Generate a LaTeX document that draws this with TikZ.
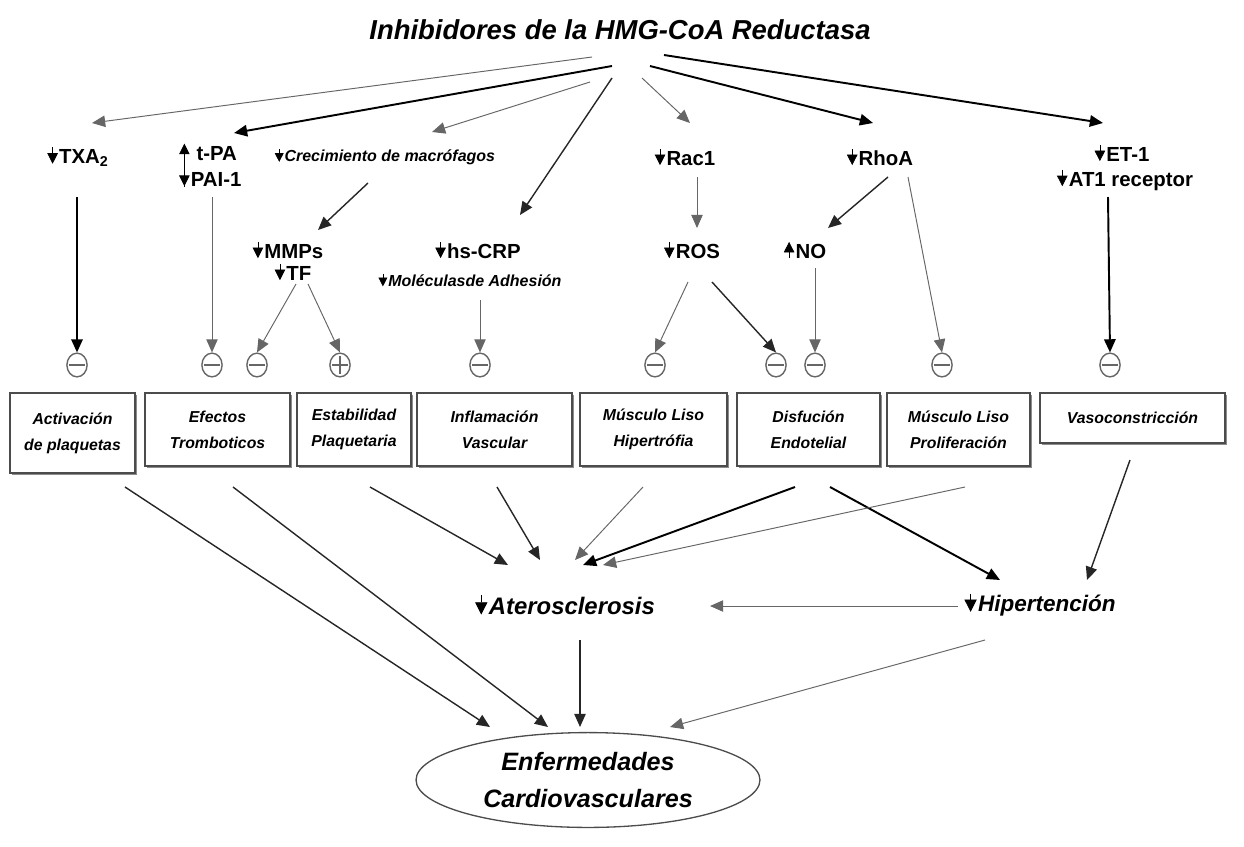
\documentclass[tikz,border=0pt]{standalone}
\usepackage{fontspec}
\setmainfont{Liberation Sans}
\usetikzlibrary{arrows.meta,shapes.geometric,shadows}
\newcommand{\dnar}[1][6]{\tikz[baseline=0pt]\draw[line width=0.4pt,-{Triangle[length=#1pt,width=#1pt]}] (0,0.8em) -- (0,0pt);\hspace{0.06em}}
\newcommand{\upar}[1][6]{\tikz[baseline=0pt]\draw[line width=0.4pt,-{Triangle[length=#1pt,width=#1pt]}] (0,0pt) -- (0,0.8em);\hspace{0.06em}}
\newcommand{\uplong}{\tikz[baseline=0pt]{\useasboundingbox (-3pt,0) rectangle (3pt,0.8em);\draw[line width=0.4pt,-{Triangle[length=6pt,width=6pt]}] (0,-1.3em) -- (0,0.8em);}\hspace{0.06em}}
\begin{document}
\begin{tikzpicture}[x=0.02cm,y=-0.02cm,
 >={Triangle[length=7.5pt,width=6.5pt]},
 lbl/.style={font=\bfseries\fontsize{11.6}{13}\selectfont, inner sep=1pt},
 ilbl/.style={font=\bfseries\itshape\fontsize{9.1}{11}\selectfont, inner sep=1pt},
 bx/.style={draw=black!70, fill=white, line width=0.75pt, align=center, inner sep=2pt,
   drop shadow={shadow xshift=1pt, shadow yshift=-1pt, fill=black!45, opacity=1},
   font=\bfseries\itshape\fontsize{9}{14.7}\selectfont},
 negc/.style={ellipse, draw=black!60, line width=0.8pt, minimum width=11.5pt, minimum height=13.5pt, inner sep=0pt,
   path picture={\draw[black!60,line width=0.8pt] ([xshift=-4.5pt]path picture bounding box.center) -- ([xshift=4.5pt]path picture bounding box.center);}},
 plusc/.style={ellipse, draw=black!60, line width=0.8pt, minimum width=11.5pt, minimum height=13.5pt, inner sep=0pt,
   path picture={\draw[black!60,line width=0.8pt] ([xshift=-4.5pt]path picture bounding box.center) -- ([xshift=4.5pt]path picture bounding box.center)
     ([yshift=-5pt]path picture bounding box.center) -- ([yshift=5pt]path picture bounding box.center);}},
 thk/.style={->, line width=1.1pt, black},
 mid/.style={->, line width=0.8pt, black!85},
 thn/.style={->, line width=0.55pt, black!60},
]
\useasboundingbox (0,0) rectangle (1244,846);

% title
\node[font=\bfseries\itshape\fontsize{15.6}{18}\selectfont] (title) at (620,30) {Inhibidores de la HMG-CoA Reductasa};

% top labels
\node[lbl] (txa) at (78,157) {\dnar TXA\textsubscript{2}};
\node[lbl, anchor=base west] (tpa) at (177,160) {\uplong\ t-PA};
\node[lbl, anchor=base west] (pai) at (177,186) {\dnar PAI-1};
\node[ilbl] (crec) at (385,157) {\dnar[5]Crecimiento de macrófagos};
\node[lbl] (rac) at (685,157) {\dnar Rac1};
\node[lbl] (rho) at (880,157) {\dnar RhoA};
\node[lbl] (et1) at (1122,153) {\dnar ET-1};
\node[lbl] (at1) at (1125,180) {\dnar AT1 receptor};

% second row labels
\node[lbl] (mmp) at (288,250) {\dnar MMPs};
\node[lbl] (tf) at (293,272) {\dnar TF};
\node[lbl] (crp) at (478,250) {\dnar hs-CRP};
\node[ilbl] (mol) at (470,280) {\dnar[5]Moléculasde Adhesión};
\node[lbl] (ros) at (692,250) {\dnar ROS};
\node[lbl] (no) at (805,250) {\upar NO};

% circles
\node[negc] (c1) at (77,365) {};
\node[negc] (c2) at (212,365) {};
\node[negc] (c3) at (257,365) {};
\node[plusc] (c4) at (340,365) {};
\node[negc] (c5) at (480,365) {};
\node[negc] (c6) at (655,365) {};
\node[negc] (c7) at (776,365) {};
\node[negc] (c8) at (815,365) {};
\node[negc] (c9) at (942,365) {};
\node[negc] (c10) at (1110,365) {};

% boxes
\node[bx, minimum width=2.5cm, minimum height=1.6cm] (act) at (72.5,433) {Activación\\de plaquetas};
\node[bx, minimum width=2.9cm, minimum height=1.46cm] (efe) at (217.5,429.5) {Efectos\\Tromboticos};
\node[bx, minimum width=2.28cm, minimum height=1.46cm] (est) at (354,429.5) {Estabilidad\\Plaquetaria};
\node[bx, minimum width=3.1cm, minimum height=1.46cm] (inf) at (494.5,429.5) {Inflamación\\Vascular};
\node[bx, minimum width=2.94cm, minimum height=1.46cm] (mlh) at (653.5,429.5) {Músculo Liso\\Hipertrófia};
\node[bx, minimum width=2.86cm, minimum height=1.46cm] (dis) at (808.5,429.5) {Disfución\\Endotelial};
\node[bx, minimum width=2.86cm, minimum height=1.46cm] (mlp) at (958.5,429.5) {Músculo Liso\\Proliferación};
\node[bx, minimum width=3.7cm, minimum height=1.0cm] (vas) at (1132.5,418) {Vasoconstricción};

% outcomes
\node[font=\bfseries\itshape\fontsize{13.6}{16}\selectfont] (ater) at (565,605) {\dnar[7]Aterosclerosis};
\node[font=\bfseries\itshape\fontsize{12.8}{15}\selectfont] (hip) at (1040,605) {\dnar[7]Hipertención};
\node[ellipse, draw=black!70, line width=0.75pt, minimum width=6.88cm, minimum height=1.88cm, align=center,
  font=\bfseries\itshape\fontsize{14.3}{21}\selectfont] (enf) at (588,780) {Enfermedades\\Cardiovasculares};

% top arrows
\draw[thn] ([shift={(-28,27)}]title.center) -- ([shift={(14,-34)}]txa.center);
\draw[thk] ([shift={(-8,36)}]title.center) -- ([shift={(57,-27)}]tpa.base west);
\draw[thn] ([shift={(-30,52)}]title.center) -- ([shift={(47,-25)}]crec.center);
\draw[mid] ([shift={(-8,48)}]title.center) -- ([shift={(42,-35)}]crp.center);
\draw[thn] ([shift={(22,48)}]title.center) -- ([shift={(5,-34)}]rac.center);
\draw[thk] ([shift={(30,36)}]title.center) -- ([shift={(-7,-34)}]rho.center);
\draw[thk] ([shift={(44,25)}]title.center) -- ([shift={(-19,-30)}]et1.center);

% second-level arrows
\draw[thk] ([shift={(-1,40)}]txa.center) -- (c1.north);
\draw[thn] ([shift={(35,11)}]pai.base west) -- (c2.north);
\draw[mid] ([shift={(-17,26)}]crec.center) -- ([shift={(30,-20)}]mmp.center);
\draw[thn] ([shift={(3,12)}]tf.center) -- (c3.north);
\draw[thn] ([shift={(15,12)}]tf.center) -- (c4.north);
\draw[thn] ([shift={(10,20)}]mol.center) -- (c5.north);
\draw[thn] ([shift={(12,20)}]rac.center) -- ([shift={(5,-22)}]ros.center);
\draw[thn] ([shift={(-4,32)}]ros.center) -- (c6.north);
\draw[mid] ([shift={(20,32)}]ros.center) -- (c7.north);
\draw[thn] ([shift={(10,18)}]no.center) -- (c8.north);
\draw[mid] ([shift={(8,20)}]rho.center) -- ([shift={(23,-22)}]no.center);
\draw[thn] ([shift={(28,20)}]rho.center) -- (c9.north);
\draw[thk] ([shift={(-17,17)}]at1.center) -- (c10.north);

% bottom arrows
\draw[mid] ([shift={(52.5,54)}]act.center) -- ([shift={(-98,-53)}]enf.center);
\draw[mid] ([shift={(15.5,57.5)}]efe.center) -- ([shift={(-40,-53)}]enf.center);
\draw[mid] ([shift={(16,57.5)}]est.center) -- ([shift={(-57,-40)}]ater.center);
\draw[mid] ([shift={(2.5,57.5)}]inf.center) -- ([shift={(-25,-45)}]ater.center);
\draw[thn] ([shift={(-10.5,57.5)}]mlh.center) -- ([shift={(10,-45)}]ater.center);
\draw[thk] ([shift={(-13.5,57.5)}]dis.center) -- ([shift={(18,-40)}]ater.center);
\draw[thk] ([shift={(21.5,57.5)}]dis.center) -- ([shift={(-40,-25)}]hip.center);
\draw[thn] ([shift={(6.5,57.5)}]mlp.center) -- ([shift={(38,-40)}]ater.center);
\draw[mid] ([shift={(-2.5,42)}]vas.center) -- ([shift={(47,-25)}]hip.center);
\draw[thn] ([shift={(-82,1)}]hip.center) -- ([shift={(145,1)}]ater.center);
\draw[mid] ([shift={(15,35)}]ater.center) -- ([shift={(-8,-53)}]enf.center);
\draw[thn] ([shift={(-55,35)}]hip.center) -- ([shift={(82,-53)}]enf.center);
\end{tikzpicture}
\end{document}
